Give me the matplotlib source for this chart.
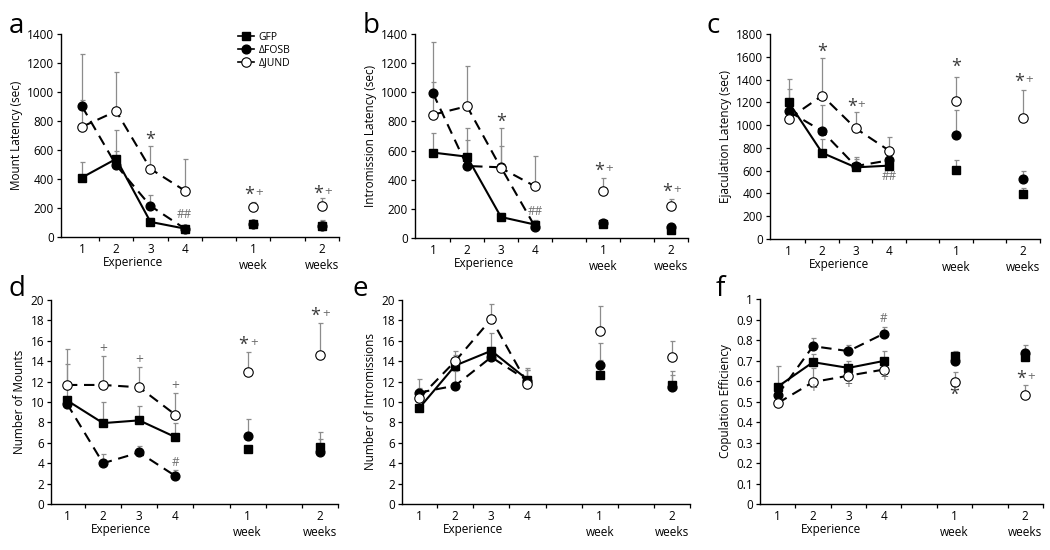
import matplotlib
matplotlib.use("Agg")
import matplotlib.pyplot as plt
import numpy as np
from matplotlib.lines import Line2D

plt.rcParams["font.family"] = ["Open Sans", "DejaVu Sans"]
plt.rcParams["font.size"] = 8

# x positions: experience 1-4, then 1 week and 2 weeks after
x_pos = [1, 2, 3, 4, 6, 8]
x_labels = ["1", "2", "3", "4", "1\nweek", "2\nweeks"]
groups = ["GFP", "\u0394FOSB", "\u0394JUND"]

# panel a: mount latency
mount_lat_gfp = [410, 539, 104, 58, 92, 78]
mount_lat_gfp_sem = [108, 197, 25, 15, 21, 39]
mount_lat_fosb = [902, 495, 214, 58, 92, 78]
mount_lat_fosb_sem = [40, 100, 78, 15, 20, 30]
mount_lat_jund = [760, 868, 470, 320, 205, 214]
mount_lat_jund_sem = [500, 271, 156, 216, 39, 53]
mount_lat_marks = [("*", 3, 667), ("##", 4, 154), ("*+", 6, 290), ("*+", 8, 300)]

# panel b: intromission latency
intro_lat_gfp = [586, 558, 144, 92, 95, 55]
intro_lat_gfp_sem = [132, 200, 30, 30, 15, 15]
intro_lat_fosb = [993, 494, 485, 78, 100, 78]
intro_lat_fosb_sem = [80, 180, 147, 25, 15, 15]
intro_lat_jund = [846, 904, 480, 355, 320, 220]
intro_lat_jund_sem = [502, 277, 273, 210, 90, 50]
intro_lat_marks = [("*", 3, 800), ("##", 4, 180), ("*+", 6, 460), ("*+", 8, 318)]

# panel c: ejaculation latency
ejac_lat_gfp = [1200, 756, 629, 644, 603, 397]
ejac_lat_gfp_sem = [209, 118, 95, 30, 88, 50]
ejac_lat_fosb = [1121, 947, 640, 691, 912, 529]
ejac_lat_fosb_sem = [200, 229, 60, 30, 220, 70]
ejac_lat_jund = [1056, 1259, 971, 776, 1215, 1065]
ejac_lat_jund_sem = [100, 326, 144, 118, 211, 244]
ejac_lat_marks = [("*", 2, 1644), ("*+", 3, 1159), ("##", 4, 550), ("*", 6, 1515), ("*+", 8, 1382)]

# panel d: number of mounts
mounts_gfp = [10.16, 7.93, 8.2, 6.56, 5.42, 5.6]
mounts_gfp_sem = [3.6, 2.07, 1.4, 1.41, 0.3, 1.5]
mounts_fosb = [9.84, 4.0, 5.05, 2.75, 6.67, 5.07]
mounts_fosb_sem = [0.6, 0.95, 0.62, 0.63, 1.66, 1.3]
mounts_jund = [11.67, 11.67, 11.44, 8.75, 12.9, 14.6]
mounts_jund_sem = [3.48, 2.85, 2.0, 2.15, 2.03, 3.18]
mounts_marks = [("+", 2, 15.15), ("+", 3, 14.03), ("+", 4, 11.54), ("#", 4, 4.1),
                ("*+", 6, 15.6), ("*+", 8, 18.4)]

# panel e: number of intromissions
intros_gfp = [9.38, 13.57, 15.02, 12.2, 12.6, 11.7]
intros_gfp_sem = [0.6, 1.0, 1.73, 0.9, 1.5, 0.9]
intros_fosb = [10.92, 11.6, 14.4, 12.1, 13.66, 11.5]
intros_fosb_sem = [1.34, 1.48, 1.0, 1.2, 2.14, 1.5]
intros_jund = [10.36, 14.0, 18.13, 11.8, 17.0, 14.4]
intros_jund_sem = [1.0, 0.98, 1.44, 1.3, 2.4, 1.6]
intros_marks = []

# panel f: copulation efficiency
cop_eff_gfp = [0.572, 0.692, 0.664, 0.698, 0.72, 0.715]
cop_eff_gfp_sem = [0.10, 0.041, 0.034, 0.048, 0.028, 0.02]
cop_eff_fosb = [0.533, 0.770, 0.746, 0.831, 0.699, 0.736]
cop_eff_fosb_sem = [0.03, 0.041, 0.028, 0.031, 0.03, 0.041]
cop_eff_jund = [0.492, 0.595, 0.626, 0.656, 0.594, 0.533]
cop_eff_jund_sem = [0.02, 0.07, 0.03, 0.03, 0.049, 0.048]
cop_eff_marks = [("+", 2, 0.557), ("+", 3, 0.58), ("+", 4, 0.613), ("#", 4, 0.907),
                 ("*", 6, 0.533), ("*+", 8, 0.609)]

panels = [
    ("a", "Mount Latency (sec)", (0, 1400), 200,
     [(mount_lat_gfp, mount_lat_gfp_sem), (mount_lat_fosb, mount_lat_fosb_sem),
      (mount_lat_jund, mount_lat_jund_sem)], mount_lat_marks),
    ("b", "Intromission Latency (sec)", (0, 1400), 200,
     [(intro_lat_gfp, intro_lat_gfp_sem), (intro_lat_fosb, intro_lat_fosb_sem),
      (intro_lat_jund, intro_lat_jund_sem)], intro_lat_marks),
    ("c", "Ejaculation Latency (sec)", (0, 1800), 200,
     [(ejac_lat_gfp, ejac_lat_gfp_sem), (ejac_lat_fosb, ejac_lat_fosb_sem),
      (ejac_lat_jund, ejac_lat_jund_sem)], ejac_lat_marks),
    ("d", "Number of Mounts", (0, 20), 2,
     [(mounts_gfp, mounts_gfp_sem), (mounts_fosb, mounts_fosb_sem),
      (mounts_jund, mounts_jund_sem)], mounts_marks),
    ("e", "Number of Intromissions", (0, 20), 2,
     [(intros_gfp, intros_gfp_sem), (intros_fosb, intros_fosb_sem),
      (intros_jund, intros_jund_sem)], intros_marks),
    ("f", "Copulation Efficiency", (0, 1), 0.1,
     [(cop_eff_gfp, cop_eff_gfp_sem), (cop_eff_fosb, cop_eff_fosb_sem),
      (cop_eff_jund, cop_eff_jund_sem)], cop_eff_marks),
]

# axes rectangles (figure fraction), x-limit start and panel-letter position
layout = [
    ([0.0581, 0.5691, 0.2648, 0.369], 0.39, (0.008, 0.94)),
    ([0.3952, 0.5673, 0.2600, 0.371], 0.47, (0.345, 0.94)),
    ([0.7333, 0.5655, 0.2570, 0.3727], 0.44, (0.673, 0.94)),
    ([0.0486, 0.0836, 0.2733, 0.371], 0.56, (0.008, 0.462)),
    ([0.3829, 0.0836, 0.2743, 0.371], 0.53, (0.336, 0.462)),
    ([0.7238, 0.0836, 0.2695, 0.3727], 0.50, (0.682, 0.462)),
]

styles = [
    dict(marker="s", ms=6.2, mfc="black", mec="black", ls="-"),
    dict(marker="o", ms=6.3, mfc="black", mec="black", ls=(0, (5, 3.2))),
    dict(marker="o", ms=6.8, mfc="white", mec="black", mew=0.8, ls=(0, (5, 3.2))),
]
err_color = "#8c8c8c"
mark_color = "#6e6e6e"
star_color = "#3a3a3a"

fig = plt.figure(figsize=(10.5, 5.5), dpi=100, facecolor="white")
x = np.array(x_pos)

for (letter, ylabel, ylim, ystep, series, marks), (rect, xmin, lpos) in zip(panels, layout):
    ax = fig.add_axes(rect)
    for k, ((mean, sem), st) in enumerate(zip(series, styles)):
        mean = np.array(mean)
        sem = np.array(sem)
        ax.errorbar(x, mean, yerr=[np.zeros_like(sem), sem], fmt="none",
                    ecolor=err_color, elinewidth=0.9, capsize=1.8, capthick=0.9,
                    zorder=1)
        ax.plot(x[:4], mean[:4], color="black", lw=1.5, ls=st["ls"], zorder=2)
        ax.plot(x, mean, ls="none", marker=st["marker"], ms=st["ms"],
                mfc=st["mfc"], mec=st["mec"], mew=st.get("mew", 1.0),
                zorder=3 + k)
    for text, xm, ym in marks:
        if text == "*+":
            ax.text(xm - 0.12, ym, "*", fontsize=13, color=star_color,
                    ha="center", va="center", zorder=10)
            ax.text(xm + 0.17, ym + (ylim[1] * 0.012), "+", fontsize=9.5,
                    color=mark_color, ha="center", va="center", zorder=10)
        elif text == "*":
            ax.text(xm, ym, "*", fontsize=13, color=star_color,
                    ha="center", va="center", zorder=10)
        elif text == "+":
            ax.text(xm, ym, "+", fontsize=10, color=mark_color,
                    ha="center", va="center", zorder=10)
        else:
            ax.text(xm, ym, text, fontsize=8.5, color=mark_color,
                    ha="center", va="center", zorder=10)

    ax.set_xlim(xmin, 8.5)
    ax.set_ylim(*ylim)
    ax.set_yticks(np.arange(ylim[0], ylim[1] + ystep / 2, ystep))
    ax.yaxis.set_major_formatter(plt.FormatStrFormatter("%g"))
    ax.set_xticks(np.arange(1.5, 8.6, 1.0))
    ax.set_xticklabels([])
    ax.set_xticks(x_pos, minor=True)
    ax.set_xticklabels(x_labels, minor=True, linespacing=1.3)
    ax.tick_params(axis="x", which="major", direction="out", length=3, width=0.9)
    ax.tick_params(axis="x", which="minor", length=0, pad=4, labelsize=8.5)
    ax.tick_params(axis="y", direction="out", length=3, width=0.9, labelsize=8.5, pad=2)
    for side in ("top", "right"):
        ax.spines[side].set_visible(False)
    for side in ("left", "bottom"):
        ax.spines[side].set_linewidth(1.0)
    ax.set_ylabel(ylabel, fontsize=8.5, labelpad=3)
    ax.annotate("Experience", xy=(2.5, 0), xycoords=("data", "axes fraction"),
                xytext=(0, -14), textcoords="offset points",
                ha="center", va="top", fontsize=8.5)
    fig.text(lpos[0], lpos[1], letter, fontsize=20, va="baseline", ha="left")

    if letter == "a":
        handles = [Line2D([0], [0], color="black", lw=1.2, marker=st["marker"],
                          ms=st["ms"], mfc=st["mfc"], mec=st["mec"],
                          mew=st.get("mew", 1.0)) for st in styles]
        ax.legend(handles, groups, loc="upper left", bbox_to_anchor=(0.62, 1.03),
                  frameon=False, fontsize=7.5, handlelength=1.6, handletextpad=0.4,
                  labelspacing=0.15, borderaxespad=0)

fig.savefig("out.png", dpi=100, facecolor="white")
